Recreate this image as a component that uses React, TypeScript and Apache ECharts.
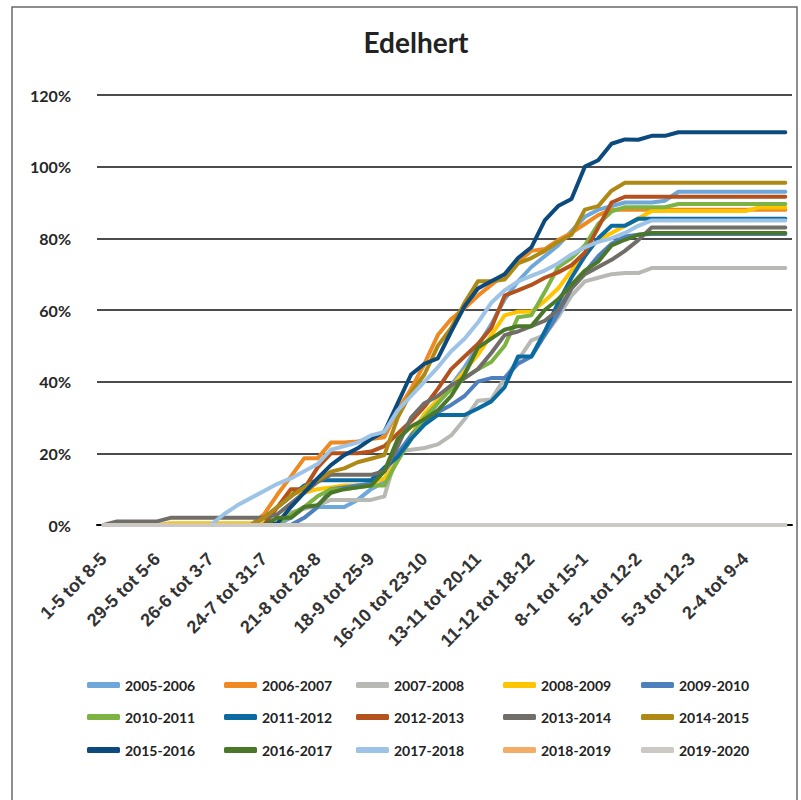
import React, { useEffect, useRef } from 'react';
import * as echarts from 'echarts';

const categories = [
  '1-5 tot 8-5', '8-5 tot 15-5', '15-5 tot 22-5', '22-5 tot 29-5', '29-5 tot 5-6', '5-6 tot 12-6',
  '12-6 tot 19-6', '19-6 tot 26-6', '26-6 tot 3-7', '3-7 tot 10-7', '10-7 tot 17-7', '17-7 tot 24-7',
  '24-7 tot 31-7', '31-7 tot 7-8', '7-8 tot 14-8', '14-8 tot 21-8', '21-8 tot 28-8', '28-8 tot 4-9',
  '4-9 tot 11-9', '11-9 tot 18-9', '18-9 tot 25-9', '25-9 tot 2-10', '2-10 tot 9-10', '9-10 tot 16-10',
  '16-10 tot 23-10', '23-10 tot 30-10', '30-10 tot 6-11', '6-11 tot 13-11', '13-11 tot 20-11', '20-11 tot 27-11',
  '27-11 tot 4-12', '4-12 tot 11-12', '11-12 tot 18-12', '18-12 tot 25-12', '25-12 tot 1-1', '1-1 tot 8-1',
  '8-1 tot 15-1', '15-1 tot 22-1', '22-1 tot 29-1', '29-1 tot 5-2', '5-2 tot 12-2', '12-2 tot 19-2',
  '19-2 tot 26-2', '26-2 tot 5-3', '5-3 tot 12-3', '12-3 tot 19-3', '19-3 tot 26-3', '26-3 tot 2-4',
  '2-4 tot 9-4', '9-4 tot 16-4', '16-4 tot 23-4', '23-4 tot 30-4',
];

const seasons = [
  '2005-2006', '2006-2007', '2007-2008', '2008-2009', '2009-2010',
  '2010-2011', '2011-2012', '2012-2013', '2013-2014', '2014-2015',
  '2015-2016', '2016-2017', '2017-2018', '2018-2019', '2019-2020',
];

const colors = [
  '#6EA7DA', '#EF8A22', '#B8B8B4', '#FFC400', '#4F80BE',
  '#7CB342', '#0B6BA1', '#B4521D', '#716D69', '#AE8915',
  '#0C4A7E', '#4B772A', '#9DC3E6', '#F4AD66', '#CCC9C4',
];

// cumulative percentages per week (index 0 = 1-5 tot 8-5)
const s2005 = [0, 0, 0, 0, 0, 0, 0, 0, 0, 0, 0, 0, 0, 0, 2, 5, 5, 5, 5, 7, 10, 12, 18, 24, 29, 34, 39, 44, 50, 56, 63, 68, 72, 75, 78, 82, 86, 88, 89, 90, 90, 90, 90.5, 93, 93, 93, 93, 93, 93, 93, 93, 93];
const s2006 = [0, 0, 0, 0, 0, 0, 0, 0, 0, 0, 0, 0, 3, 8.5, 13.5, 18.6, 18.6, 23, 23, 23.3, 24, 24.5, 32, 38, 45, 53, 57.5, 60.5, 64, 67, 70, 73.5, 76.5, 77, 79.5, 81.5, 84, 86.5, 88, 88, 88, 88, 88, 88, 88, 88, 88, 88, 88, 88, 88, 88];
const s2007 = [0, 0, 0, 0, 0, 0, 0, 0, 0, 0, 0, 0, 0, 0, 3.5, 4.5, 5.5, 7, 7, 7, 7, 8, 20.5, 21, 21.5, 22.5, 25, 29.5, 34.7, 35, 41, 46, 51.5, 53, 58, 64, 68, 69, 70, 70.3, 70.3, 71.7, 71.7, 71.7, 71.7, 71.7, 71.7, 71.7, 71.7, 71.7, 71.7, 71.7];
const s2008 = [0, 0, 0, 0, 0, 0.5, 0.5, 0.5, 0.5, 0.5, 0.5, 0.5, 0.5, 5, 9, 9, 10, 10.5, 11, 11, 11.5, 13, 18, 25, 31, 35, 38.5, 43, 47.5, 53, 58.5, 59.5, 59.5, 62.5, 66, 71, 76, 79.5, 81.5, 83.5, 85.5, 87.6, 87.6, 87.6, 87.6, 87.6, 87.6, 87.6, 87.6, 88.6, 88.6, 88.6];
const s2009 = [0, 0, 0, 0, 0, 0, 0, 0, 0, 0, 0, 0, 0, 0, 0, 2, 5, 10, 10.5, 11, 11.5, 15, 20, 25, 29, 31.5, 33.5, 36, 40, 41, 41, 45, 47, 53, 59, 66, 70.5, 75, 78.5, 80.5, 81, 81.2, 81.2, 81.2, 81.2, 81.2, 81.2, 81.2, 81.2, 81.2, 81.2, 81.2];
const s2010 = [0, 0, 0, 0, 0, 0, 0, 0, 0, 0, 0, 0, 0, 0, 3, 5, 8, 10, 10, 10.5, 11, 11, 18, 24, 30, 34, 38, 41, 43.5, 45.5, 50, 58, 58.5, 65, 72, 74.5, 78, 84, 87.5, 88.7, 88.7, 88.7, 88.7, 89.6, 89.6, 89.6, 89.6, 89.6, 89.6, 89.6, 89.6, 89.6];
const s2011 = [0, 0, 0, 0, 0, 0, 0, 0, 0, 0, 0, 0, 2, 5, 8, 11, 12.5, 12.5, 12.5, 12.5, 12.5, 16, 19, 24, 28, 30.7, 30.7, 30.7, 32.5, 34.5, 38.5, 47, 47, 54, 62, 69, 75, 80, 83.5, 83.5, 85.5, 85.5, 85.5, 85.5, 85.5, 85.5, 85.5, 85.5, 85.5, 85.5, 85.5, 85.5];
const s2012 = [0, 0, 0, 0, 0, 0, 0, 0, 0, 0, 0, 0, 0, 5, 10, 10, 16, 20, 20, 20, 20.5, 22, 25.5, 29, 33, 38, 43.5, 47, 50.5, 55, 64, 65.5, 67, 69, 70.5, 72.5, 76, 83, 90, 91.6, 91.6, 91.6, 91.6, 91.6, 91.6, 91.6, 91.6, 91.6, 91.6, 91.6, 91.6, 91.6];
const s2013 = [0, 1, 1, 1, 1, 2, 2, 2, 2, 2, 2, 2, 2, 3, 6, 9, 12, 14, 14, 14, 14, 15, 22, 30, 34, 36, 39, 41, 43.5, 48, 53, 54, 55.5, 57, 60, 66, 70, 72, 74, 76.5, 79.5, 83, 83, 83, 83, 83, 83, 83, 83, 83, 83, 83];
const s2014 = [0, 0, 0, 0, 0, 0, 0, 0, 0, 0, 0, 0, 2, 5, 8, 10.5, 12.5, 14.9, 15.8, 17.5, 18.5, 19.5, 30, 37, 42, 50, 55, 62, 68, 68, 68.5, 73, 74.5, 76.5, 79, 81, 88, 89, 93.3, 95.5, 95.5, 95.5, 95.5, 95.5, 95.5, 95.5, 95.5, 95.5, 95.5, 95.5, 95.5, 95.5];
const s2015 = [0, 0, 0, 0, 0, 0, 0, 0, 0, 0, 0, 0, 0, 0.5, 5, 9, 13, 16.7, 19.5, 21.4, 24, 26, 34, 42, 45, 46.5, 54, 61, 66, 68, 70, 74.5, 77.5, 85, 89, 91, 100, 101.8, 106.4, 107.6, 107.5, 108.6, 108.6, 109.6, 109.6, 109.6, 109.6, 109.6, 109.6, 109.6, 109.6, 109.6];
const s2016 = [0, 0, 0, 0, 0, 0, 0, 0, 0, 0, 0, 0, 0, 2, 2, 5, 5.5, 9, 10, 10.5, 11, 15, 24, 27.5, 29.5, 32, 36, 42, 49.5, 52, 54.5, 55.5, 55.5, 60, 63, 67, 71, 73.5, 78, 79.6, 81, 81.5, 81.5, 81.5, 81.5, 81.5, 81.5, 81.5, 81.5, 81.5, 81.5, 81.5];
const s2017 = [0, 0, 0, 0, 0, 0, 0, 0, 0, 3, 5.5, 7.5, 9.5, 11.5, 13, 15, 17, 21, 22, 23, 25, 26, 32, 36, 40, 44, 48.5, 52, 56.5, 62, 65.5, 68, 69.5, 71, 73, 75.5, 77.5, 79, 80, 81.5, 83.5, 85, 85, 85, 85, 85, 85, 85, 85, 85, 85, 85];
const s2018 = [0, 0, 0, 0, 0, 0, 0, 0, 0, 0, 0, 0, 0, 0, 0, 0, 0, 0, 0, 0, 0, 0, 0, 0, 0, 0, 0, 0, 0, 0, 0, 0, 0, 0, 0, 0, 0, 0, 0, 0, 0, 0, 0, 0, 0, 0, 0, 0, 0, 0, 0, 0];
const s2019 = [0, 0, 0, 0, 0, 0, 0, 0, 0, 0, 0, 0, 0, 0, 0, 0, 0, 0, 0, 0, 0, 0, 0, 0, 0, 0, 0, 0, 0, 0, 0, 0, 0, 0, 0, 0, 0, 0, 0, 0, 0, 0, 0, 0, 0, 0, 0, 0, 0, 0, 0, 0];

const seriesValues = [s2005, s2006, s2007, s2008, s2009, s2010, s2011, s2012, s2013, s2014, s2015, s2016, s2017, s2018, s2019];

const yTicks = { min: 0, max: 120, interval: 20 };

export default function App() {
  const ref = useRef<HTMLDivElement>(null);
  useEffect(() => {
    if (!ref.current) return;
    const chart = echarts.init(ref.current, null, { renderer: 'svg' });
    const colX = [87, 224, 356, 503, 641];
    const rowY = [678, 710, 743];
    chart.setOption({
      animation: false,
      backgroundColor: '#ffffff',
      title: {
        text: 'Edelhert',
        left: 411,
        top: 23,
        textAlign: 'center',
        textStyle: { fontFamily: 'Lato', fontWeight: 'bold', fontSize: 28, color: '#222222' },
      },
      graphic: [
        {
          type: 'rect',
          silent: true,
          z: -10,
          shape: { x: 12, y: 7, width: 785, height: 800 },
          style: { fill: 'none', stroke: '#6a6a6a', lineWidth: 1.5 },
        },
      ],
      legend: seasons.map((name, k) => ({
        data: [name],
        left: colX[k % 5],
        top: rowY[Math.floor(k / 5)],
        padding: 0,
        icon: 'roundRect',
        itemWidth: 33,
        itemHeight: 6,
        selectedMode: false,
        textStyle: { fontFamily: 'Lato', fontWeight: 'bold', fontSize: 14, color: '#222222' },
      })),
      grid: { left: 97, right: 9, top: 95, bottom: 275 },
      xAxis: {
        type: 'category',
        data: categories,
        boundaryGap: true,
        axisLine: { show: true, lineStyle: { color: '#000000', width: 2 } },
        axisTick: { show: false },
        axisLabel: {
          interval: 3,
          rotate: 45,
          margin: 31,
          fontFamily: '"Liberation Sans", Arial, sans-serif',
          fontWeight: 'bold',
          fontSize: 18,
          color: '#333333',
        },
        splitLine: { show: false },
      },
      yAxis: {
        type: 'value',
        min: yTicks.min,
        max: yTicks.max,
        interval: yTicks.interval,
        axisLine: { show: false },
        axisTick: { show: false },
        axisLabel: {
          formatter: '{value}%',
          margin: 26,
          fontFamily: 'Lato',
          fontWeight: 'bold',
          fontSize: 16,
          color: '#262626',
        },
        splitLine: { show: true, lineStyle: { color: '#111111', width: 1.5 } },
      },
      series: seasons.map((name, k) => ({
        name,
        type: 'line',
        data: seriesValues[k],
        symbol: 'none',
        showSymbol: false,
        itemStyle: { color: colors[k] },
        lineStyle: { width: 4, color: colors[k], cap: 'round', join: 'round' },
      })),
    });
    return () => chart.dispose();
  }, []);
  return (
    <div
      ref={ref}
      style={{ position: 'fixed', left: 0, top: 0, width: 801, height: 800, background: '#fff' }}
    />
  );
}
